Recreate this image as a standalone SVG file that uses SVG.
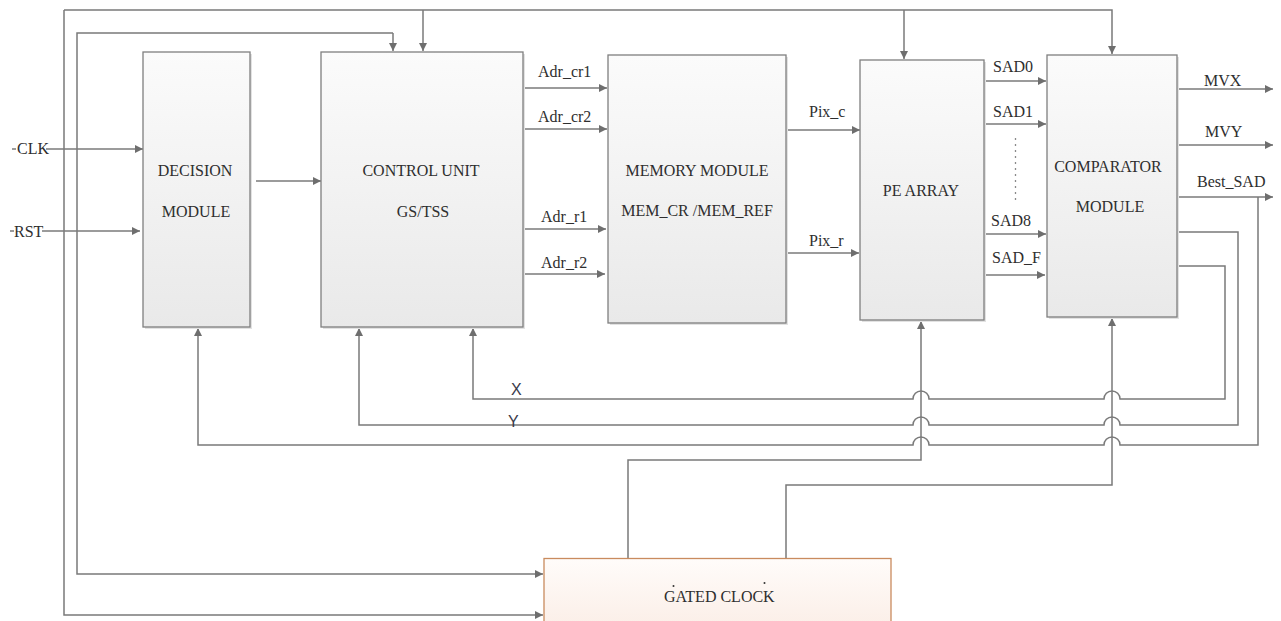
<svg xmlns="http://www.w3.org/2000/svg" width="1281" height="621" viewBox="0 0 1281 621">
<style>
.box{stroke:#7f7f7f;stroke-width:1.3;fill:url(#gbox)}
.shadow{fill:#e2e2e2}
.lbl{font-family:"Liberation Serif","Times New Roman",serif;font-size:16px;fill:#2e2e2e}
.mid{text-anchor:middle}
.sans{font-family:"Liberation Sans",Arial,sans-serif;font-size:16px;fill:#3a3a4a}
.ln{fill:none;stroke:#7a7a7a;stroke-width:1.5}
.arr{marker-end:url(#ah)}
</style>
<defs>
<linearGradient id="gbox" x1="0" y1="0" x2="0" y2="1">
<stop offset="0" stop-color="#fbfbfb"/>
<stop offset="1" stop-color="#e9e9e9"/>
</linearGradient>
<linearGradient id="gclk" x1="0" y1="0" x2="0" y2="1">
<stop offset="0" stop-color="#fffcfa"/>
<stop offset="1" stop-color="#fbeee7"/>
</linearGradient>
<marker id="ah" viewBox="0 0 10 10" refX="10" refY="5" markerWidth="9" markerHeight="8" markerUnits="userSpaceOnUse" orient="auto">
<path d="M0,0 L10,5 L0,10 z" fill="#6e6e6e"/>
</marker>
</defs>
<rect width="1281" height="621" fill="#ffffff"/>

<g id="connectors">
<path class="ln arr" d="M64,10 V615 H543"/>
<path class="ln arr" d="M64,10 H1112 V54"/>
<path class="ln arr" d="M423,10 V51"/>
<path class="ln arr" d="M904,10 V59"/>
<path class="ln arr" d="M393,33 H77 V574 H543"/>
<path class="ln arr" d="M393,33 V51"/>
<path class="ln arr" d="M12,149 H143"/>
<path class="ln arr" d="M10,231 H140"/>
<path class="ln arr" d="M256,181 H321"/>
<path class="ln arr" d="M523,88 H607"/>
<path class="ln arr" d="M523,129 H607"/>
<path class="ln arr" d="M522,229 H606"/>
<path class="ln arr" d="M522,274 H605"/>
<path class="ln arr" d="M786,130 H860"/>
<path class="ln arr" d="M781,253 H859"/>
<path class="ln arr" d="M986,81 H1046"/>
<path class="ln arr" d="M986,124 H1046"/>
<path class="ln arr" d="M986,234 H1046"/>
<path class="ln arr" d="M985,275 H1045"/>
<path d="M1015.5,138 V203" fill="none" stroke="#8a8a8a" stroke-width="1.3" stroke-dasharray="2,4"/>
<path class="ln arr" d="M1178,89 H1273"/>
<path class="ln arr" d="M1178,145 H1273"/>
<path class="ln arr" d="M1178,197 H1273"/>
<path class="ln arr" d="M1179,266 H1225 V399 H1120 A8,8 0 0 0 1104,399 H929 A8,8 0 0 0 913,399 H473 V328"/>
<path class="ln arr" d="M1178,232 H1238 V425 H1120 A8,8 0 0 0 1104,425 H929 A8,8 0 0 0 913,425 H359 V328"/>
<path class="ln arr" d="M1258,197 V445 H1120 A8,8 0 0 0 1104,445 H929 A8,8 0 0 0 913,445 H198 V328"/>
<path class="ln arr" d="M628,558 V460 H921 V321"/>
<path class="ln arr" d="M786,558 V485 H1112 V318"/>
</g>

<g id="clk-in">
<rect x="16" y="140" width="30" height="18" fill="#ffffff"/>
<text class="lbl" x="17" y="154">CLK</text>
</g>
<g id="rst-in">
<rect x="14" y="222" width="28" height="18" fill="#ffffff"/>
<text class="lbl" x="14" y="237">RST</text>
</g>

<g id="decision">
<rect class="shadow" x="145" y="54" width="107" height="275"/>
<rect class="box" x="143" y="52" width="107" height="275"/>
<text class="lbl mid" x="195" y="176">DECISION</text>
<text class="lbl mid" x="196" y="217">MODULE</text>
</g>

<g id="control">
<rect class="shadow" x="323" y="54" width="202" height="275"/>
<rect class="box" x="321" y="52" width="202" height="275"/>
<text class="lbl mid" x="421" y="176">CONTROL UNIT</text>
<text class="lbl mid" x="423" y="217">GS/TSS</text>
</g>

<g id="memory">
<rect class="shadow" x="610" y="57" width="178" height="268"/>
<rect class="box" x="608" y="55" width="178" height="268"/>
<text class="lbl mid" x="697" y="176">MEMORY MODULE</text>
<text class="lbl mid" x="697" y="216">MEM_CR /MEM_REF</text>
</g>

<g id="pe">
<rect class="shadow" x="862" y="62" width="124" height="260"/>
<rect class="box" x="860" y="60" width="124" height="260"/>
<text class="lbl mid" x="921" y="196">PE ARRAY</text>
</g>

<g id="comparator">
<rect class="shadow" x="1049" y="57" width="130" height="262"/>
<rect class="box" x="1047" y="55" width="130" height="262"/>
<text class="lbl mid" x="1108" y="172">COMPARATOR</text>
<text class="lbl mid" x="1110" y="212">MODULE</text>
</g>

<g id="gated">
<rect x="544" y="558.5" width="347" height="70" fill="url(#gclk)" stroke="#c98b5e" stroke-width="1.3"/>
<text class="lbl" x="664" y="602">GATED CLOCK</text>
<circle cx="673.5" cy="586" r="1" fill="#333"/>
<circle cx="764.5" cy="583" r="1" fill="#333"/>
</g>

<g id="labels">
<text class="lbl" x="538" y="77">Adr_cr1</text>
<text class="lbl" x="538" y="122">Adr_cr2</text>
<text class="lbl" x="541" y="222">Adr_r1</text>
<text class="lbl" x="541" y="268">Adr_r2</text>
<text class="lbl" x="809" y="117">Pix_c</text>
<text class="lbl" x="809" y="246">Pix_r</text>
<text class="lbl" x="993" y="72">SAD0</text>
<text class="lbl" x="993" y="117">SAD1</text>
<text class="lbl" x="991" y="226">SAD8</text>
<text class="lbl" x="992" y="263">SAD_F</text>
<text class="lbl" x="1204" y="86">MVX</text>
<text class="lbl" x="1205" y="137">MVY</text>
<text class="lbl" x="1197" y="187">Best_SAD</text>
<text class="sans" x="511" y="395">X</text>
<text class="sans" x="508" y="427">Y</text>
</g>
</svg>
